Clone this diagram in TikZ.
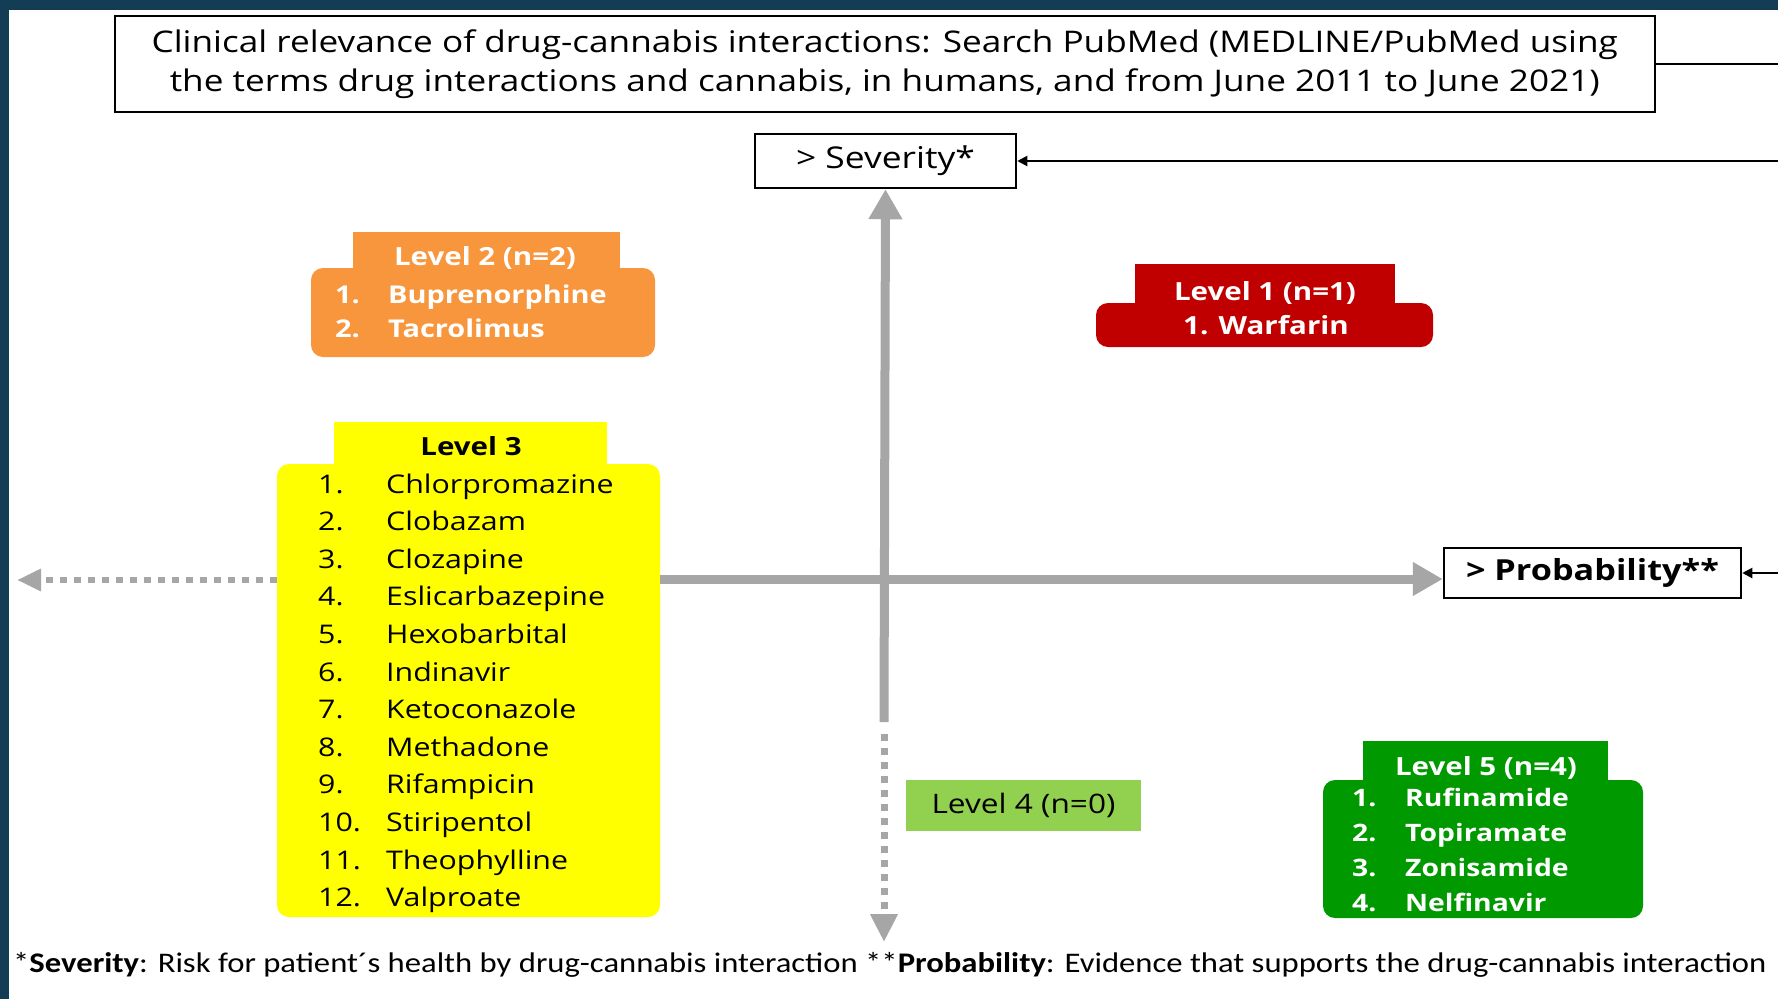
\documentclass[tikz,border=0pt]{standalone}
\usepackage{fontspec}
\setmainfont[FakeStretch=1.18]{Open Sans}
\newfontfamily\footfont[FakeStretch=1.15]{Carlito}
\usepackage{tikz}
\usetikzlibrary{arrows.meta,positioning}

\definecolor{frameteal}{RGB}{19,61,85}
\definecolor{lvlone}{RGB}{192,0,0}
\definecolor{lvltwo}{RGB}{247,150,60}
\definecolor{lvlthree}{RGB}{255,255,0}
\definecolor{lvlfour}{RGB}{146,208,80}
\definecolor{lvlfive}{RGB}{0,153,0}
\definecolor{axisgray}{RGB}{166,166,166}

\begin{document}
\begin{tikzpicture}[
    x=1pt, y=-1pt,
    frame/.style={
        rectangle,
        draw=black,
        line width=2.5pt,
        fill=white,
        inner sep=0pt
    },
    tabbox/.style={
        rectangle,
        inner sep=0pt
    },
    bodybox/.style={
        rectangle,
        rounded corners=12pt,
        inner sep=0pt
    },
    hdr/.style={
        font=\fontsize{25}{30}\selectfont\bfseries,
        inner sep=0pt,
        anchor=base
    },
    item/.style={
        font=\fontsize{25.7}{30}\selectfont,
        inner sep=0pt,
        anchor=base west
    },
    bolditem/.style={
        font=\fontsize{24.5}{30}\selectfont\bfseries,
        text=white,
        inner sep=0pt,
        anchor=base west
    },
    axis/.style={
        draw=axisgray,
        line width=9pt,
        -{Triangle[length=30pt,width=32pt]}
    },
    dotaxis/.style={
        draw=axisgray,
        line width=7pt,
        dash pattern=on 7pt off 7pt,
        -{Triangle[length=28pt,width=26pt,fill=axisgray]}
    },
    conn/.style={
        draw=black,
        line width=2pt
    }
]
\useasboundingbox (0,0) rectangle (1778,999);

% Frame of the slide
\fill[frameteal] (0,0) rectangle (1778,999);
\fill[white] (9,10) rectangle (1778,999);

% Title box
\node[frame, minimum width=1540, minimum height=96,
      font=\fontsize{29.8}{39}\selectfont, align=center] (title) at (884.75,64)
    {Clinical relevance of drug-cannabis interactions: Search PubMed (MEDLINE/PubMed using\\
     the terms drug interactions and cannabis, in humans, and from June 2011 to June 2021)};

% Axis boxes
\node[frame, minimum width=261, minimum height=54,
      font=\fontsize{30}{32}\selectfont] (sev) at (885.5,161) {> Severity*};
\node[frame, minimum width=297, minimum height=50,
      font=\fontsize{29}{32}\selectfont\bfseries] (pb) at (1592.5,573) {> Probability**};

% Level 2 (orange)
\node[tabbox, fill=lvltwo, minimum width=267, minimum height=40] (l2tab) at (486.5,252) {};
\node[bodybox, fill=lvltwo, minimum width=344, minimum height=89] (l2body) at (483,312.5) {};
\node[hdr, text=white] (l2head) at (485,265) {Level 2 (n=2)};
\node[bolditem] (l2n1) at (335,303) {1.};
\node[bolditem] (l2d1) at (388,303) {Buprenorphine};
\node[bolditem] (l2n2) at (335,337) {2.};
\node[bolditem] (l2d2) at (388,337) {Tacrolimus};

% Level 1 (red)
\node[tabbox, fill=lvlone, minimum width=260, minimum height=42] (l1tab) at (1265,285) {};
\node[bodybox, fill=lvlone, minimum width=337, minimum height=44] (l1body) at (1264.5,325) {};
\node[hdr, text=white] (l1head) at (1265,300) {Level 1 (n=1)};
\node[hdr, text=white] (l1d1) at (1266,334) {1. Warfarin};

% Level 3 (yellow)
\node[tabbox, fill=lvlthree, minimum width=273, minimum height=44] (l3tab) at (470.5,444) {};
\node[bodybox, fill=lvlthree, minimum width=383, minimum height=453] (l3body) at (468.5,690.5) {};
\node[hdr, text=black] (l3head) at (471,455) {Level 3};
\foreach \num/\drug [count=\i from 0] in {1/Chlorpromazine, 2/Clobazam, 3/Clozapine,
        4/Eslicarbazepine, 5/Hexobarbital, 6/Indinavir, 7/Ketoconazole, 8/Methadone,
        9/Rifampicin, 10/Stiripentol, 11/Theophylline, 12/Valproate} {
    \node[item] (l3n\num) at (318,493+37.6*\i) {\num.};
    \node[item] (l3d\num) at (386,493+37.6*\i) {\drug};
}

% Level 4 (light green)
\node[tabbox, fill=lvlfour, minimum width=235, minimum height=51,
      font=\fontsize{26.8}{30}\selectfont] (l4box) at (1023.5,805.5) {Level 4 (n=0)};

% Level 5 (green)
\node[tabbox, fill=lvlfive, minimum width=245, minimum height=42] (l5tab) at (1485.5,762) {};
\node[bodybox, fill=lvlfive, minimum width=320, minimum height=138] (l5body) at (1483,849) {};
\node[hdr, text=white] (l5head) at (1486,775) {Level 5 (n=4)};
\foreach \num/\drug [count=\i from 0] in {1/Rufinamide, 2/Topiramate, 3/Zonisamide, 4/Nelfinavir} {
    \node[bolditem, font=\fontsize{24}{30}\selectfont\bfseries] (l5n\num) at (1352,806+35*\i) {\num.};
    \node[bolditem, font=\fontsize{24}{30}\selectfont\bfseries] (l5d\num) at (1405,806+35*\i) {\drug};
}

% Axes
\coordinate (axo) at (884,579);
\coordinate (vend) at (884,722);
\coordinate (vdot) at (884,734);
\coordinate (vtip) at (884,942);
\coordinate (htip) at (17,580);
\draw[axis] (l3body.east |- axo) -- (pb.west |- axo);
\draw[axis] (vend) -- (sev.south);
\draw[dotaxis] (vdot) -- (vtip);
\draw[dotaxis, line width=6pt, -{Triangle[length=24pt,width=21pt,fill=axisgray]}]
    (l3body.west |- htip) -- (htip);

% Connectors from the right
\coordinate (rtop) at (1778,64);
\coordinate (rsev) at (1778,161);
\coordinate (rpb) at (1778,573);
\draw[conn] (title.east) -- (rtop);
\draw[conn, -{Triangle[length=10pt,width=10pt]}] (rsev) -- (sev.east);
\draw[conn, -{Triangle[length=10pt,width=10pt]}] (rpb) -- (pb.east);

% Footnote
\node[anchor=base west, inner sep=0pt, font=\footfont\fontsize{28.4}{32}\selectfont] (foot) at (13,972)
    {*\textbf{Severity}: Risk for patient´s health by drug-cannabis interaction **\textbf{Probability}: Evidence that supports the drug-cannabis interaction};

\end{tikzpicture}
\end{document}
